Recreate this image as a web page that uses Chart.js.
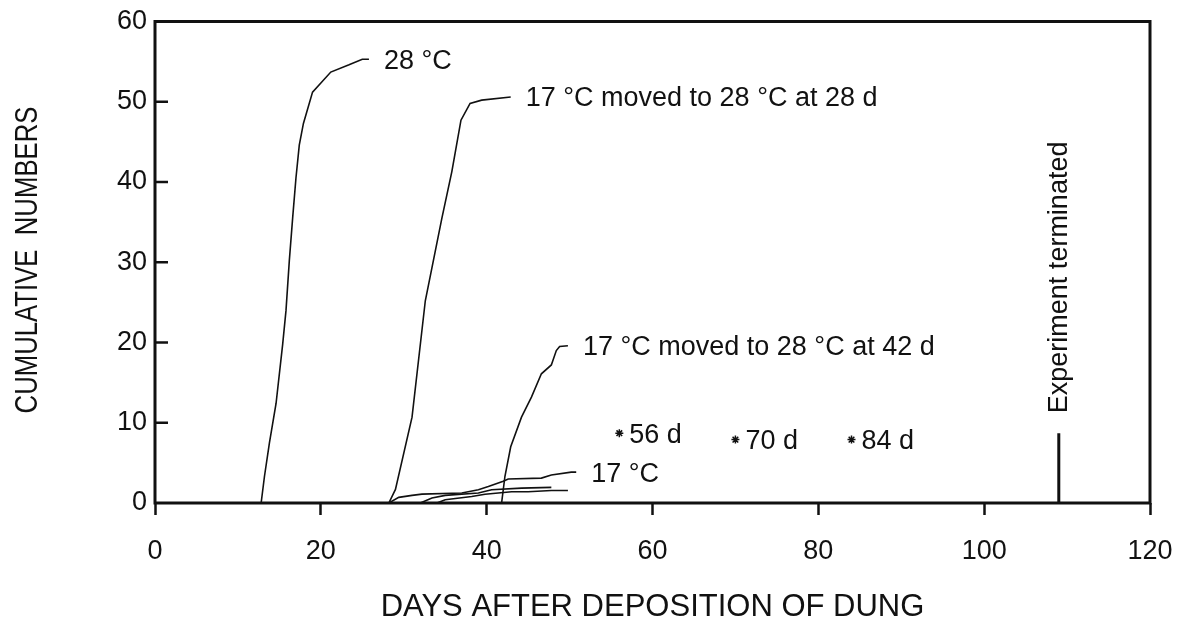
<!DOCTYPE html>
<html>
<head>
<meta charset="utf-8">
<script src="https://cdn.jsdelivr.net/npm/chart.js@4/dist/chart.umd.min.js"></script>
<style>
  body { margin: 0; background: #fff; }
  #wrap { width: 1184px; height: 627px; }
</style>
</head>
<body>
<div id="wrap"><canvas id="grafico"></canvas></div>
<script>
// values (days, cumulative numbers)
const days28 = [12.8, 13.2, 13.8, 14.6, 15.4, 15.8, 16.2, 16.6, 17.0, 17.4, 17.9, 19.0, 21.2, 23.4, 25.0, 25.8];
const count28 = [0, 3.3, 7.5, 12.4, 19.8, 24.0, 30.2, 35.5, 40.5, 44.6, 47.3, 51.2, 53.7, 54.6, 55.3, 55.3];

const daysMoved28 = [28.2, 29.0, 31.0, 32.6, 34.6, 35.8, 36.9, 38.0, 39.4, 42.9];
const countMoved28 = [0, 1.7, 10.7, 25.2, 35.5, 41.3, 47.7, 49.8, 50.2, 50.6];

const daysMoved42 = [41.8, 42.2, 42.9, 44.2, 45.4, 46.6, 47.8, 48.4, 48.8, 49.8];
const countMoved42 = [0, 3.3, 7.0, 10.7, 13.2, 16.1, 17.2, 19.0, 19.5, 19.6];

const days17a = [28.2, 29.4, 31.0, 32.2, 37.0, 39.0, 40.2, 42.0, 42.6, 46.6, 47.8, 50.2, 50.8];
const count17a = [0, 0.7, 0.95, 1.1, 1.25, 1.65, 2.05, 2.7, 3.0, 3.1, 3.5, 3.85, 3.85];
const days17b = [32.0, 33.4, 35.0, 39.0, 40.6, 44.2, 47.8];
const count17b = [0, 0.63, 0.95, 1.25, 1.65, 1.85, 1.95];
const days17c = [34.0, 35.0, 38.2, 39.8, 43.0, 45.0, 47.8, 49.8];
const count17c = [0, 0.4, 0.8, 1.1, 1.4, 1.4, 1.55, 1.55];

const starDays = [56, 70, 84];
const starCounts = [8.7, 7.9, 7.9];
const starLabels = ['56 d', '70 d', '84 d'];

const endDay = 109;
const endHeight = 8.7;

const xTicks = [0, 20, 40, 60, 80, 100, 120];
const yTicks = [0, 10, 20, 30, 40, 50, 60];

const FONT = '"Liberation Sans", Arial, Helvetica, sans-serif';

function pts(xs, ys) {
    return xs.map((x, i) => ({ x: x, y: ys[i] }));
}

function curve(label, xs, ys, note) {
    return {
        label: label,
        data: pts(xs, ys),
        showLine: true,
        borderColor: '#111',
        borderWidth: 1.6,
        pointRadius: 0,
        tension: 0,
        note: note
    };
}

const datasets = [
    curve('28 °C', days28, count28, '28 °C'),
    curve('moved 28', daysMoved28, countMoved28, '17 °C moved to 28 °C at 28 d'),
    curve('moved 42', daysMoved42, countMoved42, '17 °C moved to 28 °C at 42 d'),
    curve('17 °C a', days17a, count17a, '17 °C'),
    curve('17 °C b', days17b, count17b, null),
    curve('17 °C c', days17c, count17c, null),
    {
        label: 'moved',
        data: pts(starDays, starCounts),
        showLine: false,
        pointStyle: 'star',
        pointRadius: 4,
        borderWidth: 1.5,
        borderColor: '#111',
        backgroundColor: '#111'
    },
    {
        label: 'terminated',
        data: [{ x: endDay, y: 0 }, { x: endDay, y: endHeight }],
        showLine: true,
        borderColor: '#111',
        borderWidth: 3,
        pointRadius: 0
    }
];

const extras = {
    id: 'extras',
    afterDatasetsDraw(chart) {
        const c = chart.ctx;
        const a = chart.chartArea;
        const xs = chart.scales.x;
        const ys = chart.scales.y;
        c.save();
        c.fillStyle = '#111';
        c.strokeStyle = '#111';

        // inward ticks on the y axis
        c.lineWidth = 2.5;
        yTicks.slice(1, -1).forEach(v => {
            const py = ys.getPixelForValue(v);
            c.beginPath();
            c.moveTo(a.left, py);
            c.lineTo(a.left + 13, py);
            c.stroke();
        });

        // frame
        c.lineWidth = 3;
        c.strokeRect(a.left, a.top, a.right - a.left, a.bottom - a.top);

        // curve labels at the end of each line
        c.font = '27px ' + FONT;
        c.textBaseline = 'middle';
        c.textAlign = 'left';
        chart.data.datasets.forEach(ds => {
            if (!ds.note) return;
            const last = ds.data[ds.data.length - 1];
            const px = xs.getPixelForValue(last.x);
            const py = ys.getPixelForValue(last.y);
            c.fillText(ds.note, px + 15, py + 2);
        });

        starDays.forEach((d, i) => {
            const px = xs.getPixelForValue(d);
            const py = ys.getPixelForValue(starCounts[i]);
            c.fillText(starLabels[i], px + 10, py + 2);
        });

        // vertical note above the termination mark
        const tx = xs.getPixelForValue(endDay);
        const ty = ys.getPixelForValue(endHeight);
        c.save();
        c.translate(tx + 1, ty - 20);
        c.rotate(-Math.PI / 2);
        c.fillText('Experiment terminated', 0, 0);
        c.restore();

        // axis titles
        c.font = '31px ' + FONT;
        c.textAlign = 'center';
        c.fillText('DAYS AFTER DEPOSITION OF DUNG', (a.left + a.right) / 2, 607);
        c.save();
        c.translate(28, 260);
        c.rotate(-Math.PI / 2);
        c.scale(0.83, 1);
        c.fillText('CUMULATIVE  NUMBERS', 0, 0);
        c.restore();

        c.restore();
    }
};

new Chart(document.getElementById('grafico'), {
    type: 'scatter',
    data: { datasets: datasets },
    options: {
        responsive: true,
        maintainAspectRatio: false,
        animation: false,
        layout: { padding: { top: 16, right: 34, left: 0, bottom: 0 } },
        plugins: {
            legend: { display: false },
            tooltip: { enabled: false }
        },
        scales: {
            x: {
                type: 'linear',
                min: 0,
                max: 120,
                afterBuildTicks: s => { s.ticks = xTicks.map(v => ({ value: v })); },
                afterFit: s => {
                    s.height = 124;
                    s.paddingLeft = 0;
                    s.paddingRight = 0;
                },
                grid: {
                    drawOnChartArea: false,
                    drawTicks: true,
                    tickLength: 12,
                    tickWidth: 2.5,
                    tickColor: '#111'
                },
                border: { display: false },
                ticks: {
                    color: '#111',
                    padding: 20,
                    maxRotation: 0,
                    font: { family: FONT, size: 27 }
                }
            },
            y: {
                min: 0,
                max: 60,
                afterBuildTicks: s => { s.ticks = yTicks.map(v => ({ value: v })); },
                afterFit: s => { s.width = 155; },
                grid: { display: false, drawTicks: false },
                border: { display: false },
                ticks: {
                    color: '#111',
                    padding: 8,
                    font: { family: FONT, size: 27, lineHeight: 1 }
                }
            }
        }
    },
    plugins: [extras]
});
</script>
</body>
</html>
